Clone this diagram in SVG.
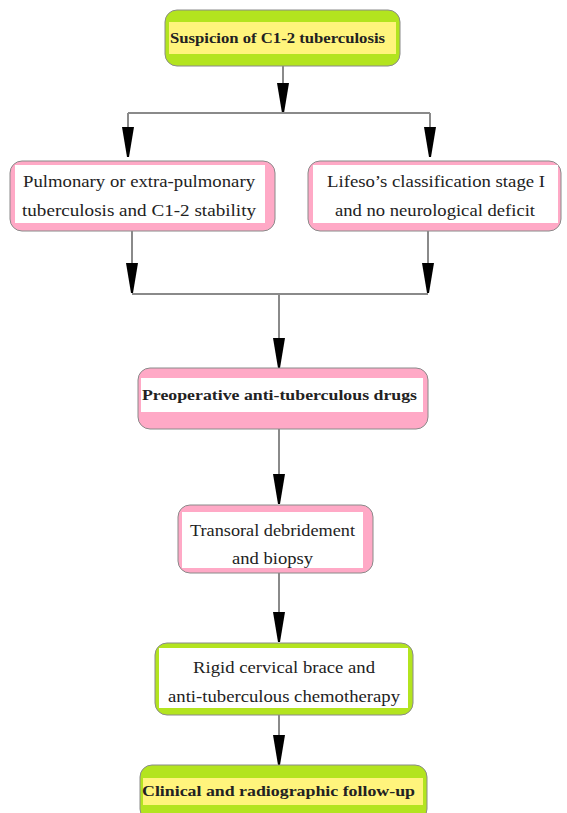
<svg xmlns="http://www.w3.org/2000/svg" width="567" height="813" viewBox="0 0 567 813">
<defs>
<style>
.green{fill:#b3e41f;stroke:#8a8a8a;stroke-width:1}
.pink{fill:#ffa9c6;stroke:#8a8a8a;stroke-width:1}
.yellow{fill:#fff47c}
.white{fill:#ffffff}
.t{font-family:"Liberation Serif","Times New Roman",serif;font-size:17px;fill:#222;text-anchor:start}
.b{font-family:"Liberation Serif","Times New Roman",serif;font-size:14.5px;font-weight:bold;fill:#222}
.c{stroke:#8a8a8a;stroke-width:2;fill:none}
</style>
<marker id="ah" viewBox="0 0 30 12" refX="30" refY="6" markerWidth="30" markerHeight="12" markerUnits="userSpaceOnUse" orient="auto">
<path d="M0,0 L30,5 L30,7 L0,12 Z" fill="#000"/>
</marker>
</defs>
<g id="connectors">
<path class="c" d="M283,66 V113" marker-end="url(#ah)"/>
<path class="c" d="M128,113 H430"/>
<path class="c" d="M128,113 V157" marker-end="url(#ah)"/>
<path class="c" d="M430,113 V157" marker-end="url(#ah)"/>
<path class="c" d="M132,231 V293" marker-end="url(#ah)"/>
<path class="c" d="M428,231 V293" marker-end="url(#ah)"/>
<path class="c" d="M132,294 H428"/>
<path class="c" d="M279,294 V368" marker-end="url(#ah)"/>
<path class="c" d="M279,429 V504" marker-end="url(#ah)"/>
<path class="c" d="M279,573 V642" marker-end="url(#ah)"/>
<path class="c" d="M279,715 V765" marker-end="url(#ah)"/>
</g>
<g id="n1">
<rect class="green" x="165" y="10" width="235" height="56" rx="12"/>
<rect class="yellow" x="169" y="22" width="227" height="32"/>
<text class="b" x="170" y="43" textLength="215" lengthAdjust="spacingAndGlyphs">Suspicion of C1-2 tuberculosis</text>
</g>
<g id="n2">
<rect class="pink" x="10" y="161" width="265" height="70" rx="12"/>
<rect class="white" x="15" y="165" width="250" height="58"/>
<text class="t" x="23" y="187" textLength="232" lengthAdjust="spacingAndGlyphs">Pulmonary or extra-pulmonary</text>
<text class="t" x="22" y="216" textLength="234" lengthAdjust="spacingAndGlyphs">tuberculosis and C1-2 stability</text>
</g>
<g id="n3">
<rect class="pink" x="308" y="161" width="253" height="70" rx="12"/>
<rect class="white" x="313" y="165" width="245" height="58"/>
<text class="t" x="327" y="187" textLength="218" lengthAdjust="spacingAndGlyphs">Lifeso’s classification stage I</text>
<text class="t" x="335" y="216" textLength="200" lengthAdjust="spacingAndGlyphs">and no neurological deficit</text>
</g>
<g id="n4">
<rect class="pink" x="138" y="368" width="290" height="61" rx="12"/>
<rect class="white" x="141" y="378" width="282" height="34"/>
<text class="b" x="142" y="400" textLength="275" lengthAdjust="spacingAndGlyphs">Preoperative anti-tuberculous drugs</text>
</g>
<g id="n5">
<rect class="pink" x="178" y="505" width="195" height="68" rx="12"/>
<rect class="white" x="182" y="512" width="181" height="56"/>
<text class="t" x="190" y="536" textLength="165" lengthAdjust="spacingAndGlyphs">Transoral debridement</text>
<text class="t" x="232" y="564" textLength="81" lengthAdjust="spacingAndGlyphs">and biopsy</text>
</g>
<g id="n6">
<rect class="green" x="155" y="643" width="258" height="72" rx="12"/>
<rect class="white" x="159" y="648" width="249" height="60"/>
<text class="t" x="193" y="673" textLength="182" lengthAdjust="spacingAndGlyphs">Rigid cervical brace and</text>
<text class="t" x="168" y="702" textLength="232" lengthAdjust="spacingAndGlyphs">anti-tuberculous chemotherapy</text>
</g>
<g id="n7">
<rect class="green" x="140" y="765" width="287" height="56" rx="12"/>
<rect class="yellow" x="143" y="778" width="280" height="27"/>
<text class="b" x="142" y="796" textLength="273" lengthAdjust="spacingAndGlyphs">Clinical and radiographic follow-up</text>
</g>
</svg>
